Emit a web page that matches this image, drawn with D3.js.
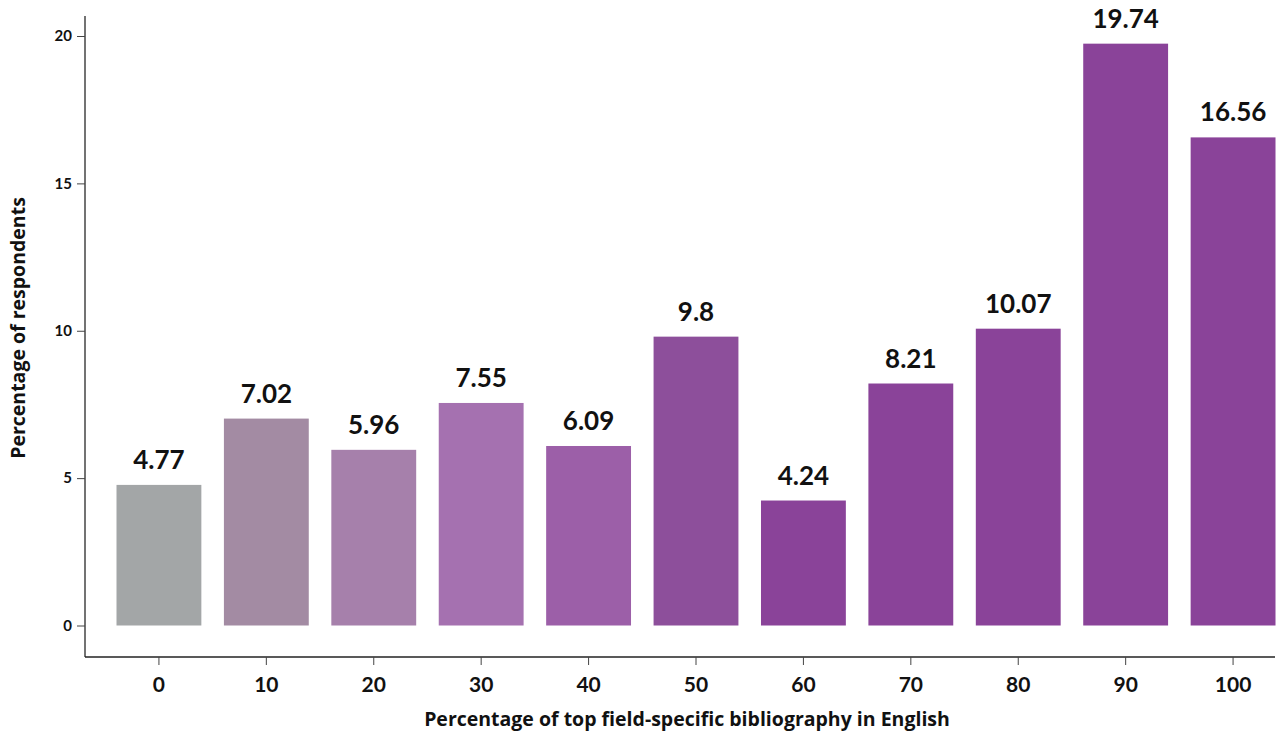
<!DOCTYPE html>
<html>
<head>
<meta charset="utf-8">
<script src="https://cdn.jsdelivr.net/npm/d3@7"></script>
<style>
  html, body { margin: 0; padding: 0; background: #fff; }
  svg { display: block; font-family: Lato, "Noto Sans", sans-serif; }
</style>
</head>
<body>
<svg id="chart" width="1277" height="733"></svg>
<script>
// Share of English in the top field-specific bibliography (x) vs. share of respondents (y)
const categories = ["0", "10", "20", "30", "40", "50", "60", "70", "80", "90", "100"];
const values = [4.77, 7.02, 5.96, 7.55, 6.09, 9.8, 4.24, 8.21, 10.07, 19.74, 16.56];
const barColors = ["#a3a6a7", "#a38ba3", "#a680ab", "#a571b0", "#9c5fa8", "#8d4f9b",
                   "#8a4399", "#8a4399", "#8a4399", "#8a4399", "#8a4399"];
const yTicks = [0, 5, 10, 15, 20];
const xTitle = "Percentage of top field-specific bibliography in English";
const yTitle = "Percentage of respondents";

const svg = d3.select("#chart");

const x = d3.scaleBand()
  .domain(categories)
  .range([116.5, 1275.5])
  .paddingInner(0.21)
  .paddingOuter(0);

const y = d3.scaleLinear()
  .domain([0, 20])
  .range([625.5, 36]);

const axisX = 85;      // position of the vertical axis line
const axisY = 657;     // position of the horizontal axis line

// Bars
svg.append("g")
  .selectAll("rect")
  .data(values)
  .join("rect")
  .attr("x", (d, i) => x(categories[i]))
  .attr("y", d => y(d))
  .attr("width", x.bandwidth())
  .attr("height", d => y(0) - y(d))
  .attr("fill", (d, i) => barColors[i]);

// Value labels above bars
svg.append("g")
  .selectAll("text")
  .data(values)
  .join("text")
  .attr("x", (d, i) => x(categories[i]) + x.bandwidth() / 2)
  .attr("y", d => y(d) - 16)
  .attr("text-anchor", "middle")
  .attr("font-size", 26)
  .attr("font-weight", 700)
  .attr("fill", "#111")
  .text(d => d);

// Y axis
const yAxis = svg.append("g").attr("transform", `translate(${axisX},0)`);
yAxis.append("line")
  .attr("x1", 0).attr("x2", 0)
  .attr("y1", 16).attr("y2", axisY)
  .attr("stroke", "#444").attr("stroke-width", 1.5);
yAxis.call(d3.axisLeft(y).tickValues(yTicks).tickSize(8).tickPadding(5))
  .call(g => g.select(".domain").remove())
  .call(g => g.selectAll(".tick line").attr("stroke", "#444"))
  .call(g => g.selectAll(".tick text")
    .attr("font-family", "Lato, sans-serif")
    .attr("font-size", 15).attr("font-weight", 700).attr("fill", "#111"));

// X axis
const xAxis = svg.append("g").attr("transform", `translate(0,${axisY})`);
xAxis.append("line")
  .attr("x1", axisX).attr("x2", 1275)
  .attr("y1", 0).attr("y2", 0)
  .attr("stroke", "#222").attr("stroke-width", 1.5);
xAxis.call(d3.axisBottom(x).tickSize(8).tickPadding(12))
  .call(g => g.select(".domain").remove())
  .call(g => g.selectAll(".tick line").attr("stroke", "#444"))
  .call(g => g.selectAll(".tick text")
    .attr("font-family", "Lato, sans-serif")
    .attr("font-size", 21).attr("font-weight", 700).attr("fill", "#111"));

// Axis titles
svg.append("text")
  .attr("x", 687)
  .attr("y", 726)
  .attr("text-anchor", "middle")
  .attr("font-family", "'Open Sans', sans-serif")
  .attr("font-size", 19.5)
  .attr("font-weight", 700)
  .attr("fill", "#111")
  .text(xTitle);

svg.append("text")
  .attr("transform", "translate(25,328) rotate(-90)")
  .attr("text-anchor", "middle")
  .attr("font-family", "'Open Sans', sans-serif")
  .attr("font-size", 19.5)
  .attr("font-weight", 700)
  .attr("fill", "#111")
  .text(yTitle);
</script>
</body>
</html>
